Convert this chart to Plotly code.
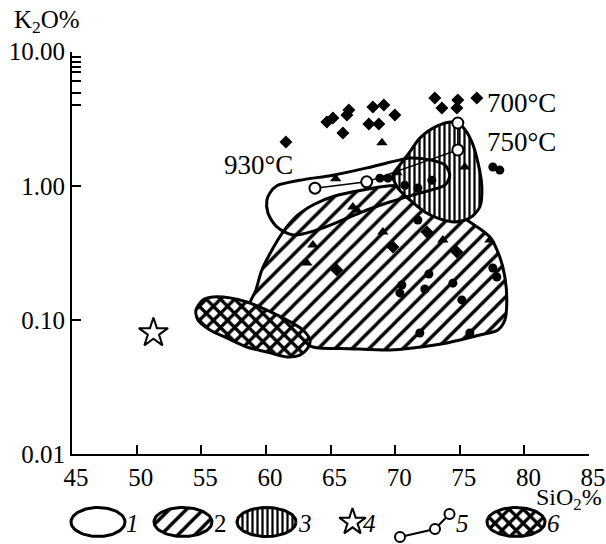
import numpy as np
import plotly.graph_objects as go

# ---------------- data (SiO2 %, K2O %) ----------------
# field 1: open outline
field1_sio2 = [60.31, 60.85, 62.63, 65.19, 67.82, 69.36, 70.37, 71.14, 72.69, 73.85, 74.23,
               73.85, 71.91, 69.59, 67.82, 65.96, 63.95, 62.09, 60.85, 60.16, 60.08, 60.31]
field1_k2o = [0.884, 1.00, 1.10, 1.20, 1.36, 1.48, 1.56, 1.61, 1.56, 1.43, 1.20,
              1.01, 0.884, 0.757, 0.660, 0.556, 0.468, 0.430, 0.493, 0.627, 0.784, 0.884]
# field 2: diagonal hatch
field2_sio2 = [58.77, 59.23, 59.69, 60.47, 61.32, 62.48, 63.79, 65.34, 67.51, 69.59, 71.14,
               72.69, 74.23, 75.78, 77.33, 78.10, 78.49, 78.64, 78.49, 77.95, 76.55, 74.00,
               71.37, 69.59, 66.50, 63.64, 61.86, 60.00, 58.77]
field2_k2o = [0.129, 0.167, 0.236, 0.332, 0.452, 0.606, 0.732, 0.839, 0.930, 1.00, 1.00,
              0.854, 0.660, 0.537, 0.415, 0.294, 0.209, 0.141, 0.0998, 0.0841, 0.0772, 0.0673,
              0.0617, 0.0596, 0.061, 0.0628, 0.0772, 0.103, 0.129]
# field 3: vertical hatch
field3_sio2 = [69.83, 70.37, 71.14, 71.91, 73.23, 74.47, 75.24, 75.94, 76.40, 76.71, 76.55,
               75.78, 74.62, 73.46, 72.30, 71.14, 70.21, 69.83]
field3_k2o = [1.20, 1.43, 1.79, 2.27, 2.79, 2.99, 2.74, 2.12, 1.50, 0.98, 0.695,
              0.575, 0.537, 0.566, 0.638, 0.784, 0.963, 1.20]
# field 6: cross hatch
field6_sio2 = [54.59, 55.13, 55.90, 57.22, 58.53, 60.08, 61.63, 62.87, 63.41, 63.25, 62.63,
               61.63, 60.08, 58.53, 56.99, 55.67, 54.74, 54.59]
field6_k2o = [0.1185, 0.141, 0.148, 0.146, 0.136, 0.1185, 0.0998, 0.0841, 0.0708, 0.0617, 0.0547,
              0.0529, 0.0576, 0.0628, 0.0733, 0.0841, 0.0998, 0.1185]

diamond_sio2 = [61.55, 64.72, 65.19, 66.27, 66.42, 65.96, 68.28, 69.13, 69.98, 67.97, 68.74,
                73.07, 73.62, 74.85, 74.78, 76.32, 65.49, 69.83, 72.46, 74.78]
diamond_k2o = [2.12, 2.99, 3.20, 3.37, 3.68, 2.48, 3.87, 4.00, 3.37, 2.89, 2.89,
               4.52, 3.80, 4.36, 3.80, 4.52, 0.236, 0.350, 0.452, 0.321]

triangle_sio2 = [68.98, 65.40, 70.14, 67.04, 63.64, 63.17, 69.05, 66.73, 73.69, 77.33, 75.39]
triangle_k2o = [2.09, 1.13, 1.25, 0.660, 0.362, 0.266, 0.452, 0.695, 0.394, 0.394, 1.38]

circle_sio2 = [68.82, 69.44, 71.76, 77.56, 77.87, 72.61, 70.52, 70.37, 72.30, 74.47, 75.16,
               71.91, 75.78, 77.56, 78.10, 70.75, 71.76, 72.84]
circle_k2o = [1.14, 1.14, 0.556, 0.244, 0.209, 0.220, 0.182, 0.159, 0.170, 0.188, 0.141,
              0.0799, 0.0799, 1.38, 1.31, 1.01, 0.963, 1.10]

star_sio2 = [51.3]
star_k2o = [0.080]

melt_sio2 = [63.8, 67.8, 74.85, 74.85]
melt_k2o = [0.96, 1.07, 1.85, 2.94]

temp_labels = ["930°C", "750°C", "700°C"]

x_tickvals = [45, 50, 55, 60, 65, 70, 75, 80, 85]
y_tickvals = [0.01, 0.1, 1, 10]
y_ticktext = ["0.01", "0.10", "1.00", "10.00"]
y_minor = [9.2, 8.4, 7.7, 7.1, 6.0, 4.9, 4.0]
legend_labels = ["<i>1</i>", "2", "<i>3</i>", "<i>4</i>", "<i>5</i>", "<i>6</i>"]

# ---------------- styling ----------------
FONT = "Liberation Serif"
W, H = 606, 544
PX0, PX1, PY0, PY1 = 72, 589, 51.7, 454   # plot area in pixels
LW = 3

hatch_diag = dict(shape="/", fgcolor="black", bgcolor="white", size=12, solidity=0.28,
                  fgopacity=1, fillmode="replace")
hatch_vert = dict(shape="|", fgcolor="black", bgcolor="white", size=5, solidity=0.45,
                  fgopacity=1, fillmode="replace")
hatch_cross = dict(shape="x", fgcolor="black", bgcolor="white", size=10, solidity=0.55,
                   fgopacity=1, fillmode="replace")

fig = go.Figure()

def field(xs, ys, pattern=None):
    kw = dict(x=xs, y=ys, mode="lines", line=dict(color="black", width=LW, shape="spline", smoothing=0.8),
              hoverinfo="skip", xaxis="x", yaxis="y")
    if pattern is not None:
        kw.update(fill="toself", fillcolor="white", fillpattern=pattern)
    fig.add_trace(go.Scatter(**kw))

field(field2_sio2, field2_k2o, hatch_diag)
field(field6_sio2, field6_k2o, hatch_cross)
field(field3_sio2, field3_k2o, hatch_vert)
field(field1_sio2, field1_k2o)

fig.add_trace(go.Scatter(x=diamond_sio2, y=diamond_k2o, mode="markers",
                         marker=dict(symbol="diamond", size=10, color="black")))
fig.add_trace(go.Scatter(x=triangle_sio2, y=triangle_k2o, mode="markers",
                         marker=dict(symbol="triangle-up", size=10, color="black")))
fig.add_trace(go.Scatter(x=circle_sio2, y=circle_k2o, mode="markers",
                         marker=dict(symbol="circle", size=9, color="black")))
fig.add_trace(go.Scatter(x=melt_sio2, y=melt_k2o, mode="lines+markers",
                         line=dict(color="black", width=1.5),
                         marker=dict(symbol="circle", size=11, color="white",
                                     line=dict(color="black", width=2))))
fig.add_trace(go.Scatter(x=star_sio2, y=star_k2o, mode="markers",
                         marker=dict(symbol="star-open", size=22, color="black",
                                     line=dict(color="black", width=2))))

# ---------------- legend row (pixel overlay) ----------------
t = np.linspace(0, 2 * np.pi, 80)
leg_cy = 522
ellipses = [(98, 27, 14.5, None), (183, 29, 14.5, hatch_diag), (266.5, 29.5, 14.5, hatch_vert),
            (516, 29, 14.5, hatch_cross)]
for cx, rx, ry, pat in ellipses:
    kw = dict(x=cx + rx * np.cos(t), y=leg_cy + ry * np.sin(t), mode="lines",
              line=dict(color="black", width=LW), xaxis="x2", yaxis="y2", hoverinfo="skip")
    if pat is not None:
        kw.update(fill="toself", fillcolor="white", fillpattern=pat)
    fig.add_trace(go.Scatter(**kw))
fig.add_trace(go.Scatter(x=[352.5], y=[leg_cy], mode="markers", xaxis="x2", yaxis="y2",
                         marker=dict(symbol="star-open", size=20, color="black",
                                     line=dict(color="black", width=2))))
fig.add_trace(go.Scatter(x=[400, 435, 449.5], y=[537, 529, 514], mode="lines+markers",
                         xaxis="x2", yaxis="y2", line=dict(color="black", width=2),
                         marker=dict(symbol="circle", size=10, color="white",
                                     line=dict(color="black", width=2))))

annotations = []
for lx, txt in zip([132, 220, 305, 369, 462, 553], legend_labels):
    annotations.append(dict(x=lx, y=leg_cy + 1, xref="x2", yref="y2", text=txt, showarrow=False,
                            font=dict(family=FONT, size=25, color="black"), xanchor="center",
                            yanchor="middle"))

def paper(px, py):
    return px / W, (H - py) / H

for (px, py), txt in zip([(258, 165), (521, 142), (521, 103)], temp_labels):
    ax, ay = paper(px, py)
    annotations.append(dict(x=ax, y=ay, xref="paper", yref="paper", text=txt, showarrow=False,
                            xanchor="center", yanchor="middle",
                            font=dict(family=FONT, size=27, color="black")))

ax, ay = paper(12, 22)
annotations.append(dict(x=ax, y=ay, xref="paper", yref="paper", text="K<sub>2</sub>O%",
                        showarrow=False, xanchor="left", yanchor="middle",
                        font=dict(family=FONT, size=25, color="black")))
ax, ay = paper(604, 499)
annotations.append(dict(x=ax, y=ay, xref="paper", yref="paper", text="SiO<sub>2</sub>%",
                        showarrow=False, xanchor="right", yanchor="middle",
                        font=dict(family=FONT, size=24, color="black")))

tickfont = dict(family=FONT, size=25, color="black")
fig.update_layout(
    width=W, height=H, margin=dict(l=0, r=0, t=0, b=0, autoexpand=False),
    paper_bgcolor="white", plot_bgcolor="rgba(0,0,0,0)", showlegend=False,
    annotations=annotations,
    xaxis=dict(domain=[PX0 / W, PX1 / W], range=[45, 85], tickvals=x_tickvals,
               ticks="inside", ticklen=9, tickwidth=2, tickcolor="black", ticklabelshift=4,
               showline=True, linewidth=2, linecolor="black", showgrid=False, zeroline=False,
               tickfont=tickfont, anchor="y", fixedrange=True, automargin=False),
    yaxis=dict(domain=[(H - PY1) / H, (H - PY0) / H], type="log", range=[-2, 1],
               tickvals=y_tickvals, ticktext=y_ticktext,
               ticks="inside", ticklen=9, tickwidth=2, tickcolor="black",
               minor=dict(tickvals=y_minor, ticks="inside", ticklen=9, tickwidth=2, tickcolor="black"),
               showline=True, linewidth=2, linecolor="black", showgrid=False, zeroline=False,
               tickfont=tickfont, anchor="x", fixedrange=True, automargin=False),
    xaxis2=dict(domain=[0, 1], range=[0, W], visible=False, anchor="y2", fixedrange=True,
                automargin=False),
    yaxis2=dict(domain=[0, 1], range=[H, 0], visible=False, anchor="x2", fixedrange=True,
                automargin=False),
)

fig.write_html("out.html", config={"displayModeBar": False},
               post_script="document.body.style.margin='0';document.body.style.overflow='hidden';")
